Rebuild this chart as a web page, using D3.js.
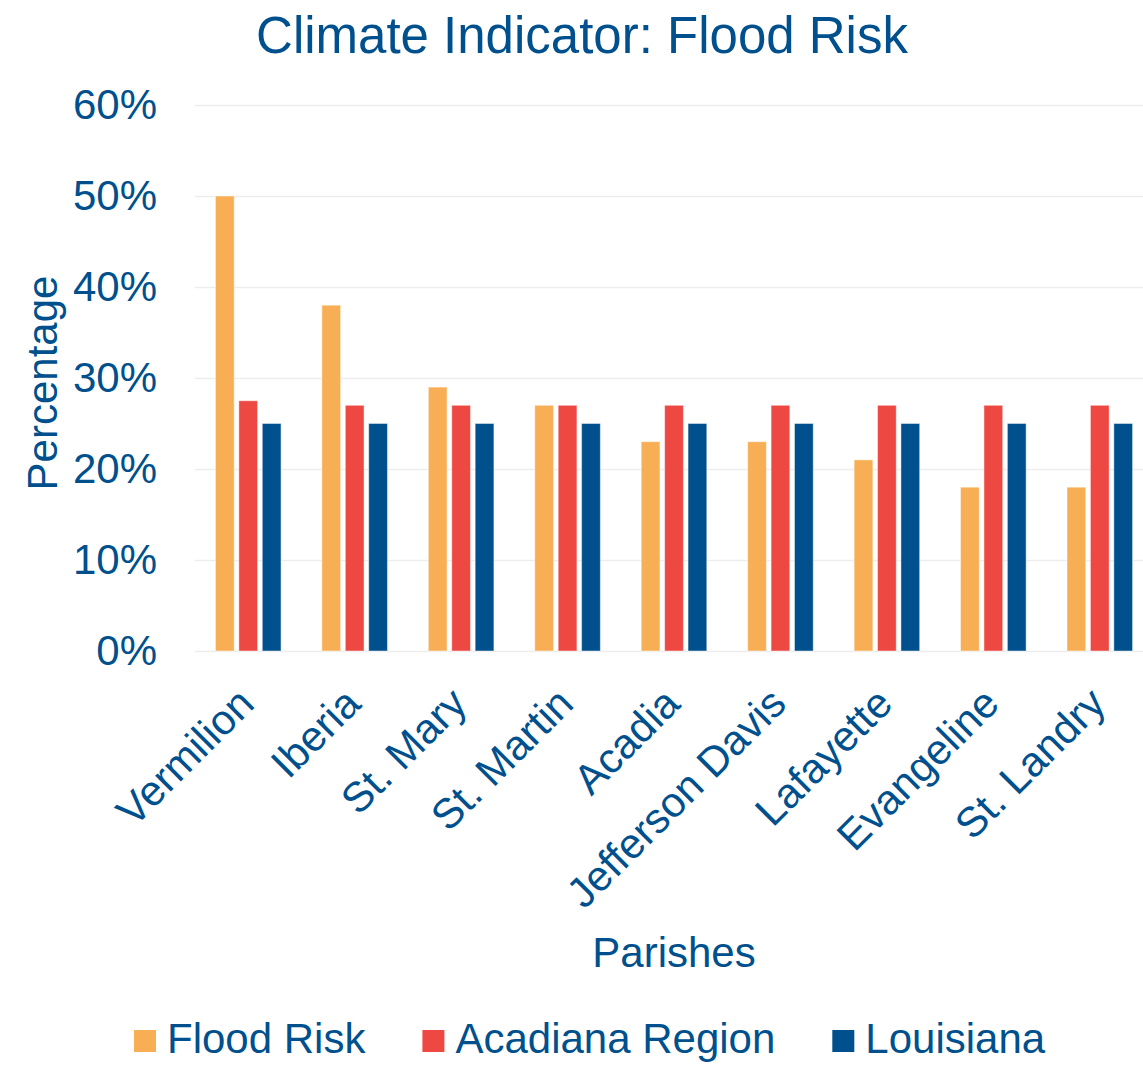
<!DOCTYPE html>
<html>
<head>
<meta charset="utf-8">
<script src="https://cdn.jsdelivr.net/npm/d3@7"></script>
<style>
  body { margin: 0; background: #fff; }
  svg text { font-family: "Liberation Sans", Arial, sans-serif; fill: #00508D; }
</style>
</head>
<body>
<svg id="chart" width="1143" height="1065"></svg>
<script>
// Parishes shown on the x axis
const parishes = ["Vermilion", "Iberia", "St. Mary", "St. Martin", "Acadia",
                  "Jefferson Davis", "Lafayette", "Evangeline", "St. Landry"];
// Series names (legend order)
const seriesNames = ["Flood Risk", "Acadiana Region", "Louisiana"];
// Percent values per parish
const floodRisk      = [50, 38, 29, 27, 23, 23, 21, 18, 18];
const acadianaRegion = [27.5, 27, 27, 27, 27, 27, 27, 27, 27];
const louisiana      = [25, 25, 25, 25, 25, 25, 25, 25, 25];
// Y axis ticks
const yTicks = [0, 10, 20, 30, 40, 50, 60];
const seriesColors = ["#F7AE54", "#EE4842", "#00508D"];

const svg = d3.select("#chart");
const plot = { left: 195, right: 1153, top: 105, bottom: 651 };

const seriesValues = [floodRisk, acadianaRegion, louisiana];
const rows = parishes.map((p, i) => ({
  parish: p,
  values: seriesNames.map((s, k) => ({ series: s, value: seriesValues[k][i] }))
}));

const x0 = d3.scaleBand().domain(parishes)
  .range([plot.left, plot.right]).paddingInner(0.384).paddingOuter(0.192);
const x1 = d3.scaleBand().domain(seriesNames)
  .range([0, x0.bandwidth()]).paddingInner(0.2).paddingOuter(0);
const y = d3.scaleLinear().domain([0, 60]).range([plot.bottom, plot.top]);
const color = d3.scaleOrdinal().domain(seriesNames).range(seriesColors);

// Title
svg.append("text")
  .attr("x", 582).attr("y", 53)
  .attr("text-anchor", "middle")
  .style("font-size", "51px")
  .text("Climate Indicator: Flood Risk");

// Horizontal gridlines
const grid = svg.append("g")
  .attr("transform", `translate(${plot.left},0)`)
  .call(d3.axisLeft(y).tickValues(yTicks).tickSize(-(plot.right - plot.left)).tickFormat(""));
grid.select(".domain").remove();
grid.selectAll(".tick line").attr("stroke", "#EDEDED").attr("stroke-width", 1.6);

// Y axis labels
const yAxis = svg.append("g")
  .attr("transform", `translate(${plot.left},0)`)
  .call(d3.axisLeft(y).tickValues(yTicks).tickSize(0).tickPadding(38).tickFormat(d => d + "%"));
yAxis.select(".domain").remove();
yAxis.selectAll("text")
  .style("font-size", "42px")
  .attr("fill", null);

// Bars
const groups = svg.append("g").selectAll("g")
  .data(rows).join("g")
  .attr("transform", d => `translate(${x0(d.parish)},0)`);
groups.selectAll("rect")
  .data(d => d.values).join("rect")
  .attr("x", d => x1(d.series))
  .attr("y", d => y(d.value))
  .attr("width", x1.bandwidth())
  .attr("height", d => y(0) - y(d.value))
  .attr("fill", d => color(d.series))
  .attr("stroke", "#fff")
  .attr("stroke-opacity", 0.45)
  .attr("stroke-width", 1);

// X axis category labels, rotated
const xAxis = svg.append("g")
  .attr("transform", `translate(0,${plot.bottom})`)
  .call(d3.axisBottom(x0).tickSize(0));
xAxis.select(".domain").remove();
xAxis.selectAll("text")
  .attr("fill", null)
  .attr("x", 0).attr("y", 0).attr("dy", null)
  .attr("text-anchor", "end")
  .attr("transform", "translate(8,55) rotate(-45)")
  .style("font-size", "42px");

// Axis titles
svg.append("text")
  .attr("x", (plot.left + plot.right) / 2).attr("y", 967)
  .attr("text-anchor", "middle")
  .style("font-size", "42px")
  .text("Parishes");

svg.append("text")
  .attr("transform", "translate(57,383) rotate(-90)")
  .attr("text-anchor", "middle")
  .style("font-size", "42px")
  .text("Percentage");

// Legend
const legend = svg.append("g");
let lx = 134;
seriesNames.forEach(name => {
  const item = legend.append("g").attr("transform", `translate(${lx},0)`);
  item.append("rect")
    .attr("x", 0).attr("y", 1030)
    .attr("width", 22).attr("height", 22)
    .attr("fill", color(name));
  const t = item.append("text")
    .attr("x", 33).attr("y", 1053)
    .style("font-size", "42px")
    .text(name);
  lx += 33 + t.node().getComputedTextLength() + 57;
});
</script>
</body>
</html>
